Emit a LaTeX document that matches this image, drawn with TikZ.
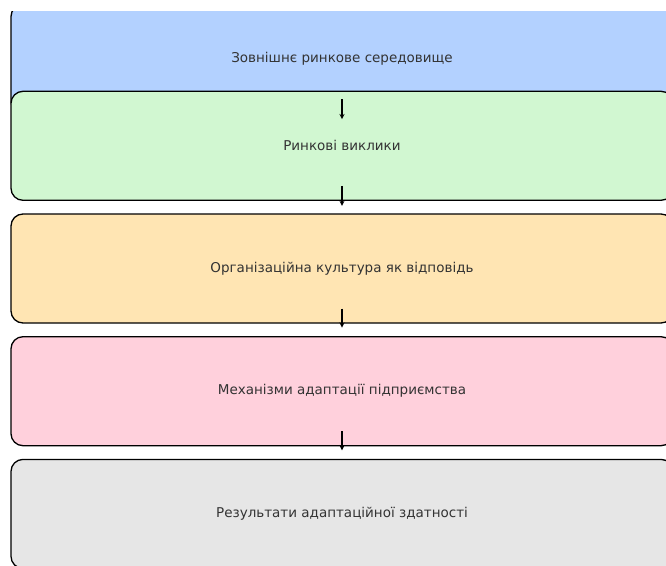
\documentclass[tikz,border=0pt]{standalone}
\usepackage{fontspec}
\setmainfont{DejaVu Sans}
\usepackage{tikz}
\usetikzlibrary{positioning}
\definecolor{envblue}{HTML}{B3D1FF}
\definecolor{challgreen}{HTML}{D1F7D1}
\definecolor{cultorange}{HTML}{FFE5B3}
\definecolor{mechpink}{HTML}{FFD0DC}
\definecolor{resgray}{HTML}{E6E6E6}
\definecolor{labeltext}{HTML}{333333}
\tikzset{
    level/.style={
           rectangle,
           rounded corners=12pt,
           draw=black, line width=1.3pt,
           minimum width=662pt,
           minimum height=109pt,
           inner sep=2pt,
           text centered,
           text=labeltext,
           font=\fontsize{13.5}{16}\selectfont,
           },
    flow/.style={->, >=stealth, line width=1.3pt},
}

\begin{document}
\begin{tikzpicture}
    \useasboundingbox (0pt,0pt) rectangle (666pt,-565pt);
    \clip (0pt,-11pt) rectangle (666pt,-565pt);

    % outer environment (partly covered by the next box)
    \node[level, fill=envblue] (env) at (342pt,-59pt) {Зовнішнє ринкове середовище};

    \node[level, fill=challgreen,
    below=-23.5pt of env] (chall)
    {Ринкові виклики};

    \node[level, fill=cultorange,
    below=12.4pt of chall] (cult)
    {Організаційна культура як відповідь};

    \node[level, fill=mechpink,
    below=12.4pt of cult] (mech)
    {Механізми адаптації підприємства};

    \node[level, fill=resgray,
    below=12.4pt of mech] (res)
    {Результати адаптаційної здатності};

    % short arrows at the lower edge of each box
    \draw[flow] ([yshift=15pt]env.south) -- ([yshift=-5pt]env.south);
    \draw[flow] ([yshift=15pt]chall.south) -- ([yshift=-5pt]chall.south);
    \draw[flow] ([yshift=15pt]cult.south) -- ([yshift=-4pt]cult.south);
    \draw[flow] ([yshift=15pt]mech.south) -- ([yshift=-4pt]mech.south);
\end{tikzpicture}
\end{document}
